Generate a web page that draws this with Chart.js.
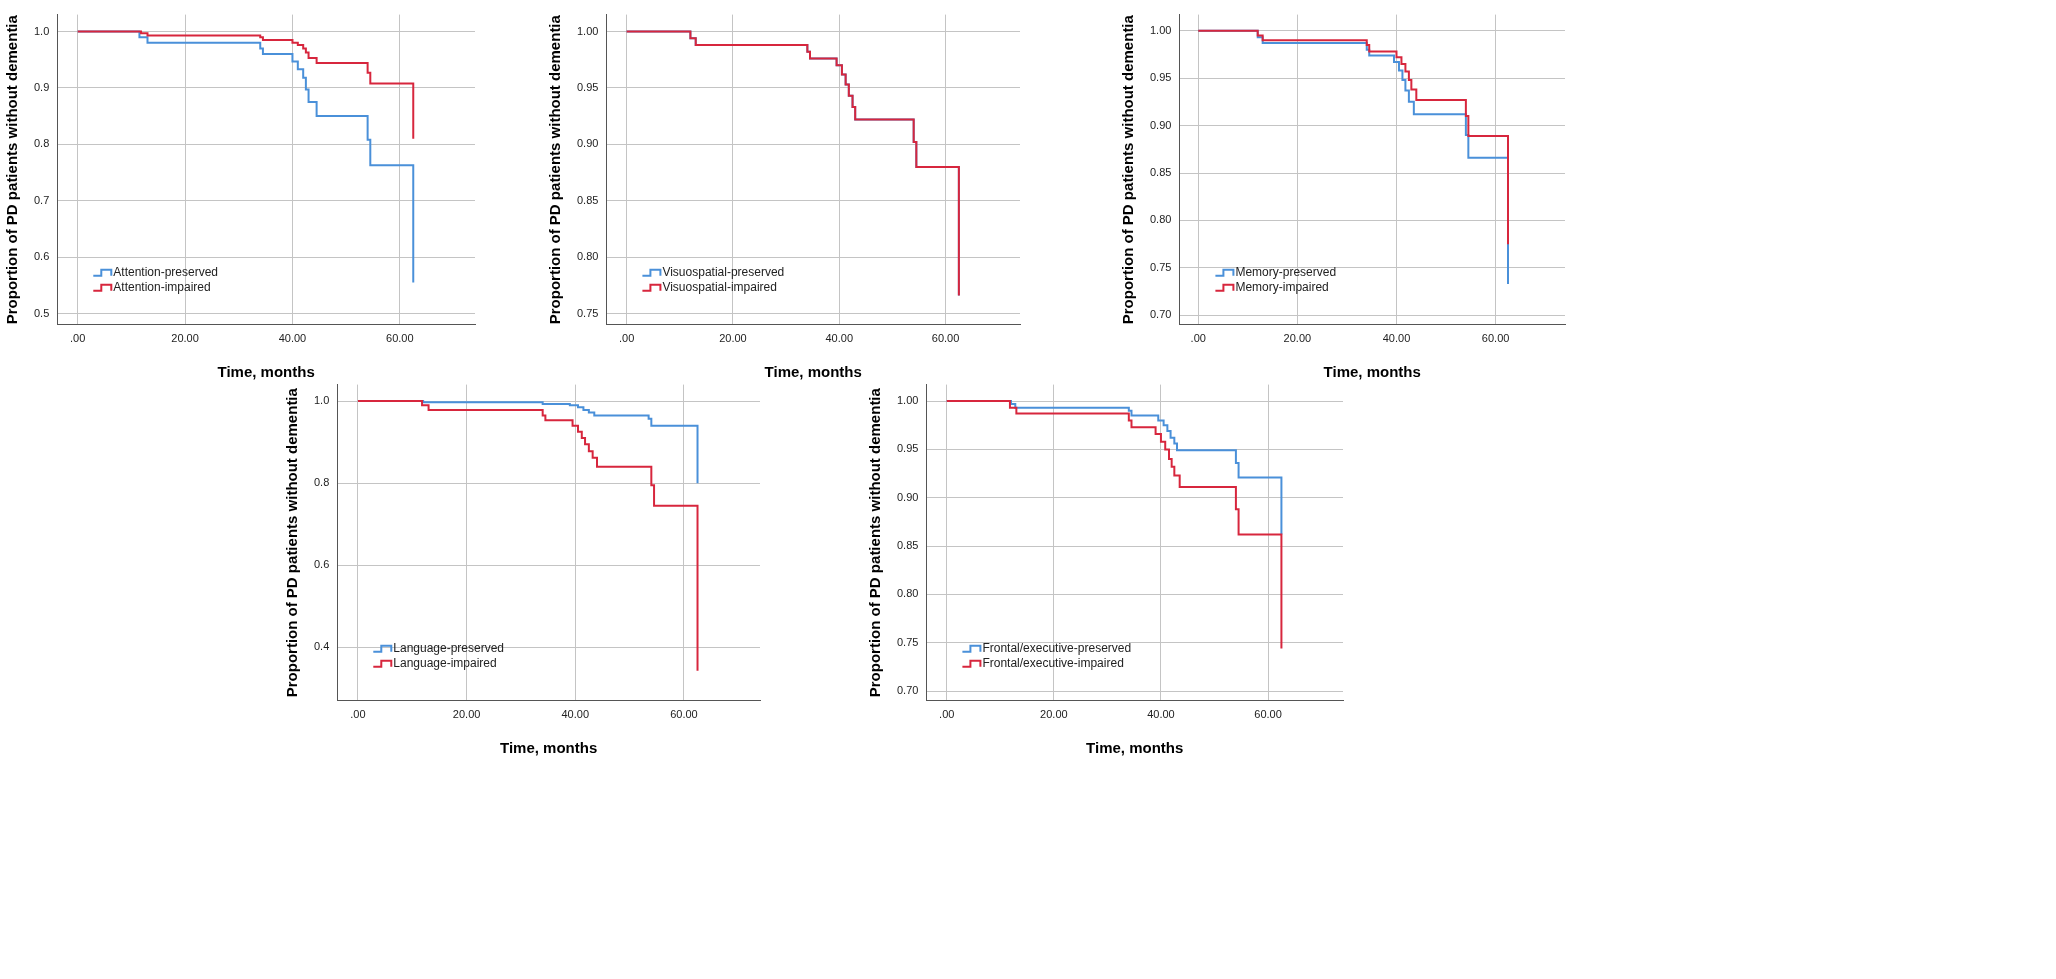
<!DOCTYPE html>
<html>
<head>
<meta charset="utf-8">
<script src="https://cdn.jsdelivr.net/npm/chart.js@4.4.0/dist/chart.umd.min.js"></script>
<style>
body{margin:0;background:#fff;width:2056px;height:979px;position:relative;overflow:hidden}
.p{position:absolute}
</style>
</head>
<body>
<div class="p" style="left:0px;top:0px;width:485px;height:386px"><canvas id="c1"></canvas></div>
<div class="p" style="left:543px;top:0px;width:487px;height:386px"><canvas id="c2"></canvas></div>
<div class="p" style="left:1116px;top:0px;width:459px;height:386px"><canvas id="c3"></canvas></div>
<div class="p" style="left:280px;top:370px;width:490px;height:392px"><canvas id="c4"></canvas></div>
<div class="p" style="left:863px;top:370px;width:490px;height:392px"><canvas id="c5"></canvas></div>
<script>
// time (months) of each step, survival after step
const attnPresT = [0, 11.5, 13, 34, 34.5, 40, 41, 42, 42.5, 43, 44.5, 54, 54.5, 62.5];
const attnPresS = [1, 0.99, 0.98, 0.97, 0.96, 0.947, 0.933, 0.918, 0.897, 0.875, 0.85, 0.808, 0.763, 0.555];
const attnImpT = [0, 11.8, 13, 34, 34.5, 40, 41, 42, 42.5, 43, 44.5, 54, 54.5, 62.5];
const attnImpS = [1, 0.997, 0.993, 0.99, 0.985, 0.98, 0.976, 0.97, 0.963, 0.953, 0.944, 0.927, 0.908, 0.81];

const visT = [0, 12, 13, 34, 34.5, 39.5, 40.5, 41.2, 41.8, 42.5, 43, 54, 54.5, 62.5];
const visPresS = [1, 0.994, 0.988, 0.982, 0.976, 0.97, 0.962, 0.953, 0.943, 0.933, 0.922, 0.902, 0.88, 0.766];
const visImpS = [1, 0.994, 0.988, 0.982, 0.976, 0.97, 0.962, 0.953, 0.943, 0.933, 0.922, 0.902, 0.88, 0.766];

const memPresT = [0, 12, 13, 34, 34.5, 39.5, 40.5, 41.2, 41.8, 42.5, 43.5, 54, 54.5, 62.5];
const memPresS = [1, 0.993, 0.987, 0.98, 0.974, 0.967, 0.958, 0.948, 0.937, 0.925, 0.912, 0.89, 0.866, 0.733];
const memImpT = [0, 12, 13, 34, 34.5, 40, 41, 41.8, 42.5, 43, 44, 54, 54.5, 62.5];
const memImpS = [1, 0.995, 0.99, 0.985, 0.978, 0.972, 0.965, 0.957, 0.948, 0.938, 0.927, 0.91, 0.889, 0.775];

const langPresT = [0, 12, 34, 39, 40.5, 41.5, 42.5, 43.5, 53.5, 54, 62.5];
const langPresS = [1, 0.997, 0.993, 0.99, 0.985, 0.978, 0.972, 0.965, 0.957, 0.94, 0.8];
const langImpT = [0, 11.8, 13, 34, 34.5, 39.5, 40.5, 41.2, 41.8, 42.5, 43.2, 44, 54, 54.5, 62.5];
const langImpS = [1, 0.99, 0.978, 0.965, 0.953, 0.94, 0.925, 0.91, 0.895, 0.878, 0.862, 0.84, 0.795, 0.745, 0.343];

const frontPresT = [0, 12, 12.8, 34, 34.5, 39.5, 40.5, 41.2, 41.8, 42.5, 43, 54, 54.5, 62.5];
const frontPresS = [1, 0.997, 0.993, 0.99, 0.985, 0.98, 0.975, 0.969, 0.962, 0.956, 0.949, 0.936, 0.921, 0.862];
const frontImpT = [0, 11.8, 13, 34, 34.5, 39, 40, 40.8, 41.5, 42, 42.5, 43.5, 54, 54.5, 62.5];
const frontImpS = [1, 0.993, 0.987, 0.98, 0.973, 0.966, 0.958, 0.95, 0.94, 0.932, 0.923, 0.911, 0.888, 0.862, 0.744];

const xTicks = [0, 20, 40, 60];
const BLUE = '#4a90d9', RED = '#d7263d';

function pts(t, s) { return t.map((v, i) => ({x: v, y: s[i]})); }

const legendInside = {
  id: 'legendInside',
  afterDraw(chart) {
    const ctx = chart.ctx, a = chart.chartArea;
    const x = a.left + 36, y0 = a.bottom - 52;
    ctx.save();
    ctx.font = '12px Arial';
    ctx.textBaseline = 'middle';
    chart.data.datasets.forEach((d, i) => {
      const y = y0 + i * 15;
      ctx.strokeStyle = d.borderColor; ctx.lineWidth = 2;
      ctx.beginPath();
      ctx.moveTo(x, y + 3); ctx.lineTo(x + 8, y + 3); ctx.lineTo(x + 8, y - 3);
      ctx.lineTo(x + 18, y - 3); ctx.lineTo(x + 18, y + 3);
      ctx.stroke();
      ctx.fillStyle = '#222';
      ctx.fillText(d.label, x + 20, y);
    });
    ctx.restore();
  }
};

function km(id, labels, blue, red, yMin, yMax, yTicks, dec) {
  new Chart(document.getElementById(id), {
    type: 'line',
    data: {
      datasets: [
        {label: labels[0], data: blue, borderColor: BLUE, borderWidth: 2, stepped: 'before', pointRadius: 0, fill: false, order: 1},
        {label: labels[1], data: red, borderColor: RED, borderWidth: 2, stepped: 'before', pointRadius: 0, fill: false, order: 0}
      ]
    },
    options: {
      animation: false,
      responsive: true,
      maintainAspectRatio: false,
      layout: {padding: {top: 0, right: 10}},
      plugins: {legend: {display: false}, tooltip: {enabled: false}},
      scales: {
        x: {
          type: 'linear', min: -3.8, max: 74,
          afterBuildTicks: ax => { ax.ticks = xTicks.map(v => ({value: v})); },
          ticks: {font: {size: 11, family: 'Arial'}, color: '#222', callback: v => v === 0 ? '.00' : v.toFixed(2), padding: 8},
          grid: {color: '#c4c4c4', drawTicks: false},
          border: {color: '#555'},
          title: {display: true, text: 'Time, months', font: {size: 15, weight: 'bold', family: 'Arial'}, color: '#000', padding: {top: 10}}
        },
        y: {
          min: yMin, max: yMax,
          afterBuildTicks: ax => { ax.ticks = yTicks.map(v => ({value: v})); },
          ticks: {font: {size: 11, family: 'Arial'}, color: '#222', callback: v => v.toFixed(dec), padding: 8},
          grid: {color: '#c4c4c4', drawTicks: false},
          border: {color: '#555'},
          title: {display: true, text: 'Proportion of PD patients without dementia', font: {size: 15, weight: 'bold', family: 'Arial'}, color: '#000'}
        }
      }
    },
    plugins: [legendInside]
  });
}

km('c1', ['Attention-preserved', 'Attention-impaired'], pts(attnPresT, attnPresS), pts(attnImpT, attnImpS), 0.48, 1.03, [0.5, 0.6, 0.7, 0.8, 0.9, 1.0], 1);
km('c2', ['Visuospatial-preserved', 'Visuospatial-impaired'], pts(visT, visPresS), pts(visT, visImpS), 0.74, 1.015, [0.75, 0.8, 0.85, 0.9, 0.95, 1.0], 2);
km('c3', ['Memory-preserved', 'Memory-impaired'], pts(memPresT, memPresS), pts(memImpT, memImpS), 0.69, 1.017, [0.7, 0.75, 0.8, 0.85, 0.9, 0.95, 1.0], 2);
km('c4', ['Language-preserved', 'Language-impaired'], pts(langPresT, langPresS), pts(langImpT, langImpS), 0.27, 1.04, [0.4, 0.6, 0.8, 1.0], 1);
km('c5', ['Frontal/executive-preserved', 'Frontal/executive-impaired'], pts(frontPresT, frontPresS), pts(frontImpT, frontImpS), 0.69, 1.017, [0.7, 0.75, 0.8, 0.85, 0.9, 0.95, 1.0], 2);
</script>
</body>
</html>
